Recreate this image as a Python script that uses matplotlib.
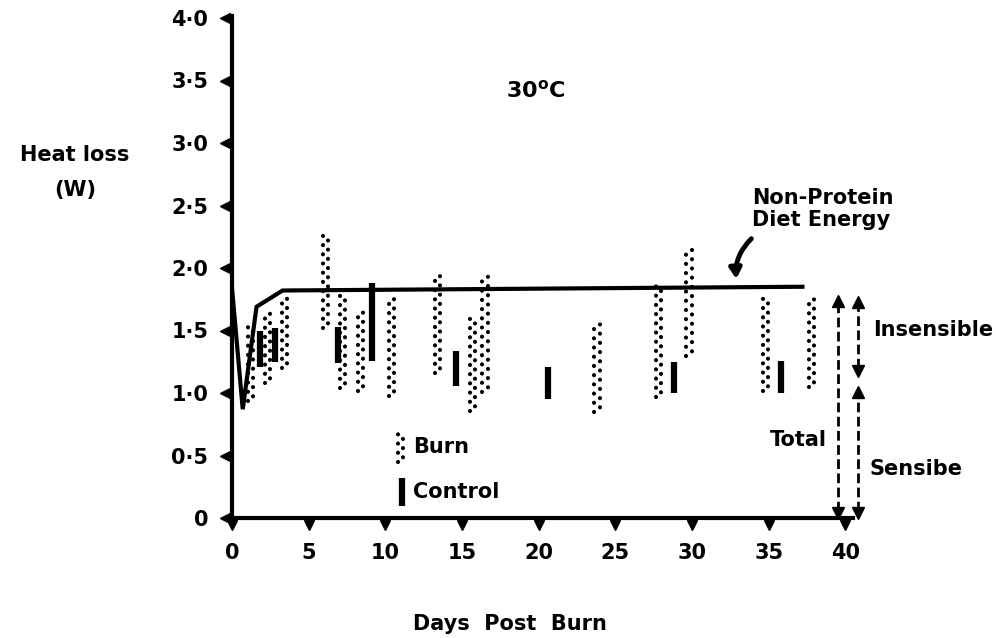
import numpy as np
import matplotlib.pyplot as plt
from matplotlib.transforms import offset_copy

plt.rcParams['font.family'] = 'DejaVu Sans'
plt.rcParams['font.weight'] = 'bold'

# burn: day, top, bottom of the stippled bars (W)
burn_day = [1.2, 2.3, 3.4, 6.1, 7.2, 8.4, 10.4, 13.4, 15.7, 16.5, 23.8, 27.8, 29.8, 34.8, 37.8]
burn_hi = [1.54, 1.66, 1.77, 2.29, 1.80, 1.66, 1.76, 1.94, 1.62, 1.96, 1.57, 1.86, 2.18, 1.78, 1.76]
burn_lo = [0.94, 1.08, 1.20, 1.52, 1.04, 1.02, 0.98, 1.16, 0.86, 1.01, 0.85, 0.97, 1.30, 1.02, 1.05]

# control: solid bars
ctrl_day = [1.8, 2.8, 6.9, 9.1, 14.6, 20.6, 28.8, 35.8]
ctrl_hi = [1.50, 1.52, 1.53, 1.88, 1.34, 1.21, 1.25, 1.26]
ctrl_lo = [1.21, 1.25, 1.24, 1.26, 1.06, 0.95, 1.00, 1.00]

# non-protein diet energy line
diet_day = [0.0, 0.7, 1.6, 3.3, 37.2]
diet_w = [1.84, 0.87, 1.69, 1.82, 1.85]

xticks = [0, 5, 10, 15, 20, 25, 30, 35, 40]
yticks = [0, 0.5, 1.0, 1.5, 2.0, 2.5, 3.0, 3.5, 4.0]
ylabels = ["0", "0·5", "1·0", "1·5", "2·0", "2·5", "3·0", "3·5", "4·0"]

fig = plt.figure(figsize=(9.96, 6.38), dpi=100)
ax = fig.add_axes([232 / 996, 120 / 638, 621 / 996, 502 / 638])
ax.set_xlim(0, 40.5)
ax.set_ylim(0, 4.016)

LW_DOT = 3.0


def stipple(x, lo, hi):
    x = np.atleast_1d(x)
    ax.vlines(x - 0.17, lo, hi, colors="black", linewidth=LW_DOT,
              linestyles=[(0, (0.01, 2.2))], capstyle="round")
    ax.vlines(x + 0.17, lo, hi, colors="black", linewidth=LW_DOT,
              linestyles=[(1.1 * LW_DOT, (0.01, 2.2))], capstyle="round")


stipple(np.array(burn_day), burn_lo, burn_hi)
ax.vlines(ctrl_day, ctrl_lo, ctrl_hi, colors="black", linewidth=4.5)
ax.plot(diet_day, diet_w, color="black", lw=3, solid_joinstyle="miter")

# axes
for s in ["top", "right"]:
    ax.spines[s].set_visible(False)
for s in ["left", "bottom"]:
    ax.spines[s].set_linewidth(3)
ax.set_xticks(xticks)
ax.set_yticks(yticks)
ax.set_yticklabels(ylabels)
ax.tick_params(length=0, labelsize=15)
ax.tick_params(axis="y", pad=17)
ax.tick_params(axis="x", pad=18)
for lab in ax.get_xticklabels() + ax.get_yticklabels():
    lab.set_fontweight("bold")

tl = offset_copy(ax.transData, fig=fig, x=-7, y=0, units="dots")
ax.plot(np.zeros(len(yticks)), yticks, ls="none", marker="<", ms=7,
        color="black", transform=tl, clip_on=False)
tb = offset_copy(ax.transData, fig=fig, x=0, y=-7, units="dots")
ax.plot(xticks, np.zeros(len(xticks)), ls="none", marker="v", ms=7,
        color="black", transform=tb, clip_on=False)


# total / insensible / sensible arrows
def darrow(x, lo, hi):
    ax.plot([x, x], [lo + 0.06, hi - 0.06], color="black", lw=2,
            ls=(0, (3.5, 1.6)), clip_on=False)
    ax.plot(x, hi - 0.04, marker="^", ms=9, color="black", clip_on=False)
    ax.plot(x, lo + 0.04, marker="v", ms=9, color="black", clip_on=False)


darrow(39.5, 0.0, 1.78)
darrow(40.8, 1.14, 1.77)
darrow(40.8, 0.0, 1.05)

ax.text(41.8, 1.5, "Insensible", fontsize=15, va="center", clip_on=False)
ax.text(38.8, 0.62, "Total", fontsize=15, va="center", ha="right")
ax.text(41.6, 0.39, "Sensibe", fontsize=15, va="center", clip_on=False)

# hand-made legend
stipple(11.0, 0.45, 0.69)
ax.vlines(11.1, 0.10, 0.32, colors="black", linewidth=4.5)
ax.text(11.8, 0.57, "Burn", fontsize=15, va="center")
ax.text(11.8, 0.21, "Control", fontsize=15, va="center")

ax.text(19.8, 3.42, "30$^{\\mathbf{o}}$C", fontsize=16, ha="center", va="center")
ax.text(33.9, 2.47, "Non-Protein\nDiet Energy", fontsize=15, ha="left",
        va="center", linespacing=1.15)
ax.annotate("", xy=(32.9, 1.89), xytext=(34.0, 2.25),
            arrowprops=dict(arrowstyle="-|>,head_width=0.35,head_length=0.6",
                            lw=3.5, color="black",
                            connectionstyle="arc3,rad=0.25"))

fig.text(75 / 996, 1 - 155 / 638, "Heat loss", fontsize=15, ha="center", va="center")
fig.text(75 / 996, 1 - 190 / 638, "(W)", fontsize=15, ha="center", va="center")
fig.text(510 / 996, 1 - 624 / 638, "Days  Post  Burn", fontsize=15, ha="center", va="center")

plt.savefig("out.png", dpi=100)
